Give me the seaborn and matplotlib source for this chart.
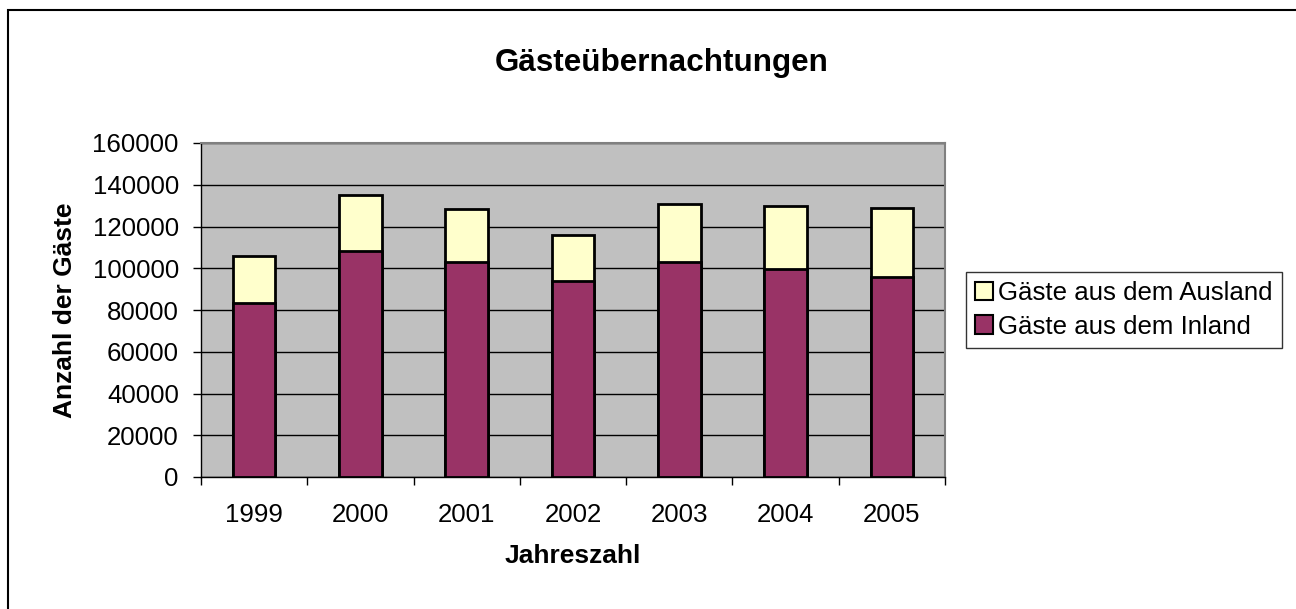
import matplotlib
matplotlib.use("Agg")
import matplotlib.pyplot as plt
import seaborn as sns
import pandas as pd
from matplotlib.patches import Patch, Rectangle

years = ["1999", "2000", "2001", "2002", "2003", "2004", "2005"]
inland = [83200, 108200, 103200, 93900, 103100, 99700, 96000]
ausland = [22800, 26800, 25400, 22100, 27600, 30200, 32800]
yticks = [0, 20000, 40000, 60000, 80000, 100000, 120000, 140000, 160000]

sns.set_theme(style="white")
plt.rcParams["font.family"] = ["Liberation Sans", "DejaVu Sans"]
plt.rcParams["text.color"] = "black"
plt.rcParams["axes.labelcolor"] = "black"
plt.rcParams["xtick.color"] = "black"
plt.rcParams["ytick.color"] = "black"

df = pd.DataFrame({"Jahr": years, "Inland": inland, "Ausland": ausland})
df["Gesamt"] = df["Inland"] + df["Ausland"]

fig = plt.figure(figsize=(12.96, 6.09), dpi=100)
ax = fig.add_axes([201/1296, 1-477/609, (945-201)/1296, (477-143)/609])
ax.set_facecolor("#C0C0C0")

c_in = "#993366"
c_aus = "#FFFFCC"
sns.barplot(data=df, x="Jahr", y="Gesamt", color=c_aus, saturation=1, width=0.4,
            edgecolor="black", linewidth=2, ax=ax, zorder=3)
sns.barplot(data=df, x="Jahr", y="Inland", color=c_in, saturation=1, width=0.4,
            edgecolor="black", linewidth=2, ax=ax, zorder=4)

ax.set_ylim(0, 160000)
ax.set_xlim(-0.5, len(years) - 0.5)
ax.set_yticks(yticks)
ax.set_yticklabels([str(v) for v in yticks], fontsize=18.6)
ax.yaxis.grid(True, color="black", linewidth=1)
ax.set_axisbelow(True)
ax.tick_params(axis="y", direction="out", length=6, width=1, color="black", pad=10, left=True)
ax.set_xticks(range(len(years)))
ax.set_xticklabels(years, fontsize=18.6)
ax.tick_params(axis="x", which="major", length=0, pad=19)
ax.set_xticks([i - 0.5 for i in range(len(years) + 1)], minor=True)
ax.tick_params(axis="x", which="minor", direction="out", length=6, width=1, color="black", bottom=True)

for s in ["top", "right"]:
    ax.spines[s].set_color("#808080")
    ax.spines[s].set_linewidth(1.5)
for s in ["left", "bottom"]:
    ax.spines[s].set_color("black")
    ax.spines[s].set_linewidth(1)

ax.set_xlabel("Jahreszahl", fontsize=19, fontweight="bold", labelpad=12)
ax.set_ylabel("Anzahl der Gäste", fontsize=19, fontweight="bold", labelpad=11)
fig.text(662/1296, 1-63/609, "Gästeübernachtungen", fontsize=22.6, fontweight="bold",
         ha="center", va="center")

handles = [Patch(facecolor=c_aus, edgecolor="black", linewidth=1.5, label="Gäste aus dem Ausland"),
           Patch(facecolor=c_in, edgecolor="black", linewidth=1.5, label="Gäste aus dem Inland")]
leg = fig.legend(handles=handles, loc="center left", bbox_to_anchor=(966/1296, 1-310/609),
                 fontsize=18.6, frameon=True, fancybox=False, edgecolor="black",
                 handlelength=0.7, handleheight=0.7, handletextpad=0.2, borderpad=0.35,
                 labelspacing=0.35, borderaxespad=0)
leg.get_frame().set_linewidth(1)

fig.patches.append(Rectangle((8/1296, -0.05), 1.2, 1-10/609 + 0.05, transform=fig.transFigure,
                             fill=False, edgecolor="black", linewidth=1.5))

fig.savefig("out.png", dpi=100, facecolor="white")
